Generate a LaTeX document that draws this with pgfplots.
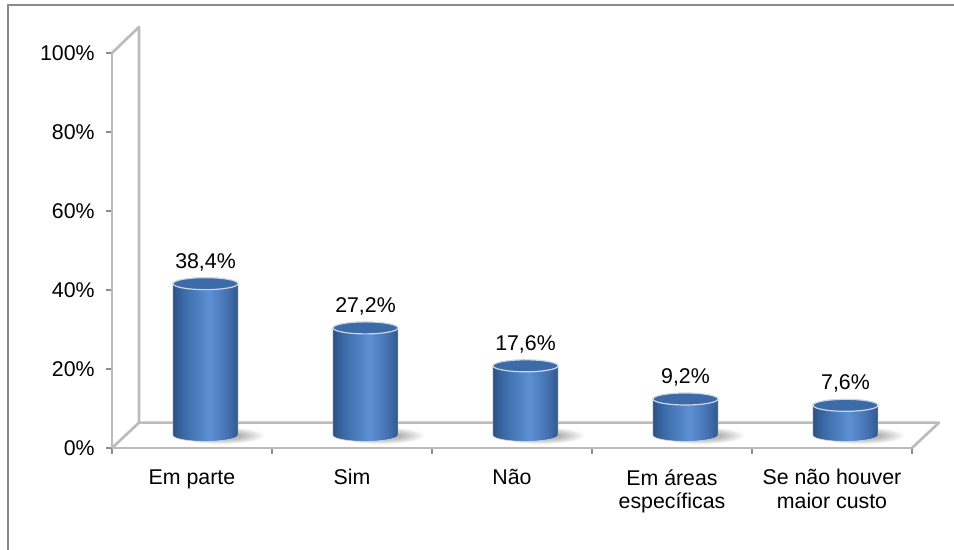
\documentclass[border=0pt]{standalone}
\usepackage{fontspec}
\setmainfont{Liberation Sans}
\usepackage{pgfplots}
\pgfplotsset{compat=1.18}
\definecolor{wallgray}{HTML}{BBBBBB}
\definecolor{tickgray}{HTML}{8C8C8C}
\definecolor{framegray}{HTML}{8A8A8A}
\definecolor{cylA}{HTML}{2D5283}
\definecolor{cylB}{HTML}{3B69A7}
\definecolor{cylC}{HTML}{5C90D2}
\definecolor{cylD}{HTML}{4876B6}
\definecolor{cylE}{HTML}{31598F}
\definecolor{bartop}{HTML}{3C6BA8}
\definecolor{bartopedge}{HTML}{CBD6E8}
\pgfdeclarehorizontalshading{cyl}{100bp}{color(0bp)=(cylA); color(25bp)=(cylA); color(32.5bp)=(cylB); color(52.5bp)=(cylC); color(65bp)=(cylD); color(75bp)=(cylE); color(100bp)=(cylE)}
\pgfdeclareradialshading{cylshadow}{\pgfpoint{0bp}{0bp}}{color(0bp)=(black!45); color(10bp)=(black!30); color(25bp)=(white); color(50bp)=(white)}
\begin{document}
\begin{tikzpicture}
\useasboundingbox (0,0) rectangle (715.5pt,412.5pt);
\draw[framegray, line width=1.2pt] (6pt,0) -- (6pt,408.75pt) -- (715.5pt,408.75pt);
% front frame, ticks and labels
\begin{axis}[
  at={(84pt,76.5pt)}, anchor=south west,
  width=600pt, height=296.25pt, scale only axis,
  xmin=0, xmax=5, ymin=0, ymax=100,
  clip=false,
  axis lines=left,
  axis line style={-, wallgray, line width=2pt},
  /pgf/number format/assume math mode=true,
  ytick={0,20,40,60,80,100},
  yticklabel={\pgfmathprintnumber{\tick}\%},
  yticklabel style={font=\fontsize{16}{18}\selectfont, xshift=-5pt},
  xtick={0.5,1.5,2.5,3.5,4.5},
  xticklabels={Em parte, Sim, Não, {Em áreas\\específicas}, {Se não houver\\maior custo}},
  xticklabel style={align=center, font=\fontsize{16}{17.5}\selectfont, yshift=-8pt},
  minor xtick={0,1,2,3,4,5},
  tick align=outside,
  major tick length=4.5pt,
  minor tick length=4.5pt,
  major x tick style={draw=none},
  minor x tick style={tickgray, line width=0.8pt},
  major y tick style={tickgray, line width=0.8pt},
]
\draw[wallgray, line width=2pt, line join=round]
  (axis cs:0,100) -- ([shift={(20.25pt,19.5pt)}]axis cs:0,100)
  -- ([shift={(20.25pt,19pt)}]axis cs:0,0)
  -- ([shift={(20.25pt,19pt)}]axis cs:5,0)
  -- (axis cs:5,0);
\draw[wallgray, line width=2pt] (axis cs:0,0) -- ([shift={(20.25pt,19pt)}]axis cs:0,0);
\end{axis}
% cylinders at mid depth
\begin{axis}[
  at={(94.125pt,86pt)}, anchor=south west,
  width=600pt, height=296.25pt, scale only axis,
  xmin=0, xmax=5, ymin=0, ymax=100,
  point meta min=0, point meta max=100,
  clip=false, hide axis,
  /pgf/number format/assume math mode=true,
]
\addplot[scatter, only marks, mark=*, mark size=0pt, point meta=y,
  scatter/@pre marker code/.code={%
    \pgfmathsetmacro\cylh{\pgfplotspointmetatransformed*0.29625}%
    \path[draw=none, shading=cylshadow] (11pt,-\cylh pt) ellipse [x radius=34pt, y radius=6.5pt];
    \shadedraw[shading=cyl, draw=white!70!gray, line width=0.4pt] (-24.4pt,0pt) -- (-24.4pt,-\cylh pt) arc[start angle=180,end angle=360,x radius=24.4pt,y radius=4.5pt] -- (24.4pt,0pt) -- cycle;
    \filldraw[fill=bartop, draw=bartopedge, line width=0.9pt] (0pt,0pt) ellipse [x radius=24.4pt, y radius=4.5pt];
  },
  scatter/@post marker code/.code={}]
  coordinates {(0.5,38.4) (1.5,27.2) (2.5,17.6) (3.5,9.2) (4.5,7.6)};
% value labels
\addplot[draw=none, mark=none,
  nodes near coords={\pgfmathprintnumber[fixed,fixed zerofill,precision=1,use comma]{\pgfplotspointmeta}\%},
  nodes near coords style={anchor=south, yshift=6pt, font=\fontsize{16}{18}\selectfont}]
  coordinates {(0.5,38.4) (1.5,27.2) (2.5,17.6) (3.5,9.2) (4.5,7.6)};
\end{axis}
\end{tikzpicture}
\end{document}
